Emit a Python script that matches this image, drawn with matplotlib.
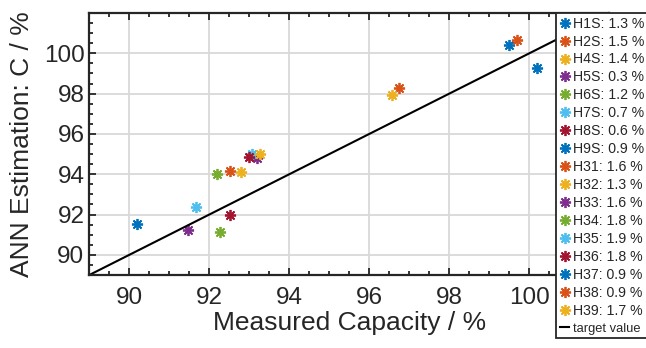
import matplotlib.pyplot as plt
from matplotlib.ticker import MultipleLocator

plt.rcParams['font.family'] = ['Liberation Sans', 'DejaVu Sans']

# series names, legend errors and (measured, estimated) values
names = ["H1S", "H2S", "H4S", "H5S", "H6S", "H7S", "H8S", "H9S", "H31",
         "H32", "H33", "H34", "H35", "H36", "H37", "H38", "H39"]
errors = [1.3, 1.5, 1.4, 0.3, 1.2, 0.7, 0.6, 0.9, 1.6,
          1.3, 1.6, 1.8, 1.9, 1.8, 0.9, 0.9, 1.7]
measured = [90.2, 92.53, 92.8, 91.47, 92.27, 91.66, 92.52, 99.5, 96.73,
            96.58, 93.2, 92.2, 93.06, 93.0, 100.18, 99.7, 93.26]
estimated = [91.55, 94.17, 94.1, 91.24, 91.14, 92.35, 91.98, 100.39, 98.27,
             97.94, 94.8, 93.99, 95.0, 94.84, 99.28, 100.65, 95.02]
target = [89, 102]

colors = ["#0072BD", "#D95319", "#EDB120", "#7E2F8E", "#77AC30", "#4DBEEE", "#A2142F"]
dark = "#262626"

fig = plt.figure(figsize=(6.46, 3.48), dpi=100)
ax = fig.add_axes([89.3 / 646, 73 / 348, 520 / 646, 262 / 348])

for i, name in enumerate(names):
    ax.plot(measured[i], estimated[i], linestyle="none", marker=(8, 2, 0),
            markersize=8, markeredgewidth=1.3, color=colors[i % 7],
            label=f"{name}: {errors[i]} %")
ax.plot(target, target, color="black", linewidth=1.5, label="target value")

ax.set_xlim(89, 102)
ax.set_ylim(89, 102)
ax.set_xticks([90, 92, 94, 96, 98, 100])
ax.set_yticks([90, 92, 94, 96, 98, 100])
ax.xaxis.set_minor_locator(MultipleLocator(0.5))
ax.yaxis.set_minor_locator(MultipleLocator(0.5))
ax.tick_params(which="both", direction="in", top=True, right=True,
               colors=dark, labelsize=17.5, width=1.3)
ax.tick_params(which="major", length=5)
ax.tick_params(which="minor", length=3)
ax.tick_params(axis="x", which="major", pad=9)
ax.grid(True, which="major", color="#d9d9d9", linewidth=1.3)
ax.set_axisbelow(True)
for s in ax.spines.values():
    s.set_linewidth(1.6)
    s.set_color(dark)

ax.set_xlabel("Measured Capacity / %", fontsize=19, color=dark, labelpad=1)
ax.set_ylabel("ANN Estimation: C / %", fontsize=19, color=dark, labelpad=7)

leg = ax.legend(loc="upper left", bbox_to_anchor=(556 / 646, 335 / 348),
                bbox_transform=fig.transFigure, fontsize=10.2, frameon=True,
                fancybox=False, edgecolor=dark, handlelength=0.7,
                handletextpad=0.25, borderpad=0.25, labelspacing=0.28,
                borderaxespad=0)
leg.get_frame().set_linewidth(1.3)
leg.get_frame().set_alpha(1)
for t in leg.get_texts():
    t.set_color(dark)
leg.get_texts()[-1].set_fontsize(9.3)

fig.savefig("out.png", dpi=100)
